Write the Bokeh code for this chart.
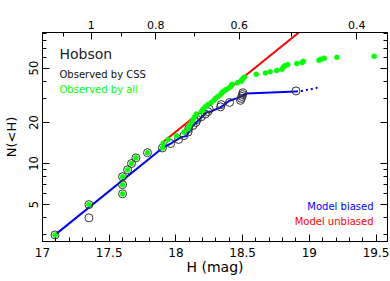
import math
from bokeh.plotting import figure
from bokeh.models import Range1d, LinearAxis, LogAxis, FixedTicker, Label, BasicTickFormatter
from bokeh.embed import file_html
from bokeh.resources import INLINE

# ---------------- data ----------------
# Observed by CSS (open circles): H (mag), cumulative N(<H)
css_H = [17.094, 17.348, 17.348, 17.600, 17.600, 17.600, 17.638, 17.667, 17.700, 17.787,
         17.899, 17.961, 18.020, 18.060, 18.091, 18.096, 18.128, 18.150, 18.160, 18.190,
         18.220, 18.240, 18.250, 18.335, 18.340, 18.402, 18.484, 18.490, 18.495, 18.500,
         18.502, 18.900]
css_N = [3, 4, 5, 6, 7, 8, 9, 10, 11, 12,
         13, 14, 15, 16, 17, 18, 19, 20, 21, 22,
         23, 24, 25, 26, 27, 28, 29, 30, 31, 32,
         33, 34]

# Observed by all (green dots)
all_H = [17.094, 17.348, 17.600, 17.600, 17.600, 17.638, 17.667, 17.700, 17.787, 17.899,
         17.904, 17.942, 18.004, 18.060, 18.091, 18.103, 18.116, 18.130, 18.141, 18.153,
         18.190, 18.203, 18.220, 18.240, 18.265, 18.285, 18.297, 18.315, 18.335, 18.345,
         18.360, 18.380, 18.402, 18.415, 18.420, 18.460, 18.490, 18.495, 18.502, 18.514,
         18.602, 18.671, 18.706, 18.756, 18.794, 18.806, 18.816, 18.839, 18.906, 18.945,
         18.955, 19.072, 19.087, 19.112, 19.207, 19.486]
all_N = [3, 5, 6, 7, 8, 9, 10, 11, 12, 13,
         14, 15, 16, 17, 18, 19, 20, 21, 22, 23,
         24, 25, 26, 27, 28, 29, 30, 31, 32, 33,
         34, 35, 36, 37, 38, 39, 40, 41, 42, 43,
         45, 46, 47, 48, 49, 51, 52, 53, 54, 55,
         56, 57, 58, 59, 60, 61]

# Model biased (blue, solid part and dotted extension)
biased_H = [17.094, 17.904, 17.960, 18.040, 18.080, 18.100, 18.130, 18.190, 18.228, 18.260,
            18.340, 18.400, 18.477, 18.527, 18.900]
biased_N = [3.0, 13.1, 14.0, 15.6, 15.9, 17.3, 19.0, 21.7, 23.6, 24.0,
            26.0, 28.8, 30.5, 32.6, 33.7]
biased_ext_H = [18.900, 18.940, 19.010, 19.050, 19.075]
biased_ext_N = [33.7, 34.0, 35.0, 35.6, 37.1]

# Model unbiased (red)
unbiased_H = [17.890, 18.950]
unbiased_N = [14.0, 96.0]

# ticks
H_ticks = [17, 17.5, 18, 18.5, 19, 19.5]
H_labels = ["17", "17.5", "18", "18.5", "19", "19.5"]
H_minor = [17.1, 17.2, 17.3, 17.4, 17.6, 17.7, 17.8, 17.9, 18.1, 18.2, 18.3, 18.4,
           18.6, 18.7, 18.8, 18.9, 19.1, 19.2, 19.3, 19.4]
N_ticks = [5, 10, 20, 50]
N_minor = [3, 4, 6, 7, 8, 9, 30, 40, 60, 70, 80, 90]
D_ticks = [1, 0.8, 0.6, 0.4]
D_labels = ["1", "0.8", "0.6", "0.4"]
D_minor = [1.1, 0.9, 0.7, 0.5]
H_at_1km = 17.365   # albedo 0.2

def H_of_D(d):
    return H_at_1km - 5.0 * math.log10(d)

D_pos = [H_of_D(d) for d in D_ticks]
D_minor_pos = [H_of_D(d) for d in D_minor]

FONT = "DejaVu Sans"

p = figure(width=390, height=281,
           x_range=Range1d(17.0, 19.586), y_range=Range1d(2.684, 91.1),
           y_axis_type="log", x_axis_location=None, y_axis_location=None,
           output_backend="svg", toolbar_location=None,
           min_border_left=41, min_border_right=3, min_border_top=32, min_border_bottom=40)
p.outline_line_color = "black"
p.background_fill_color = "white"
p.border_fill_color = "white"
p.grid.visible = False


def style(ax, fs):
    ax.axis_line_color = "black"
    ax.axis_line_width = 1
    ax.major_tick_line_color = "black"
    ax.minor_tick_line_color = "black"
    ax.major_tick_in = 7
    ax.major_tick_out = 0
    ax.minor_tick_in = 4
    ax.minor_tick_out = 0
    ax.major_label_text_font = FONT
    ax.major_label_text_font_size = fs
    ax.major_label_text_color = "black"
    ax.axis_label_text_font = FONT
    ax.axis_label_text_font_style = "normal"
    ax.axis_label_text_color = "black"


bottom = LinearAxis(ticker=FixedTicker(ticks=H_ticks, minor_ticks=H_minor),
                    major_label_overrides=dict(zip(H_ticks, H_labels)),
                    axis_label="H (mag)")
style(bottom, "12px")
bottom.axis_label_text_font_size = "14px"
bottom.major_label_standoff = 6
bottom.axis_label_standoff = -1
p.add_layout(bottom, "below")

left = LogAxis(ticker=FixedTicker(ticks=N_ticks, minor_ticks=N_minor),
               formatter=BasicTickFormatter(), axis_label="N(<H)",
               major_label_orientation="vertical")
style(left, "11.5px")
left.axis_label_text_font_size = "13px"
left.major_label_standoff = 4
left.axis_label_standoff = 8
p.add_layout(left, "left")

right = LogAxis(ticker=FixedTicker(ticks=N_ticks, minor_ticks=N_minor))
style(right, "0px")
right.major_label_text_color = None
right.major_label_standoff = 0
p.add_layout(right, "right")

top = LinearAxis(ticker=FixedTicker(ticks=D_pos, minor_ticks=D_minor_pos),
                 major_label_overrides=dict(zip(D_pos, D_labels)))
style(top, "11px")
top.major_label_standoff = 4
p.add_layout(top, "above")

# curves and points
p.line(biased_H, biased_N, line_color="#0000ff", line_width=2)
p.line(biased_ext_H, biased_ext_N, line_color="#0000ff", line_width=2, line_dash="2 3")
p.line(unbiased_H, unbiased_N, line_color="#ff0000", line_width=2)
p.scatter(css_H, css_N, marker="circle", size=8, fill_color=None,
          line_color="#333333", line_width=1)
p.scatter(all_H, all_N, marker="circle", size=5, fill_color="#00ff00",
          line_color="#00ff00", line_width=0.5)

# texts (screen units relative to the plot frame)
def lab(text, x, y, size, color, align="left", baseline="alphabetic"):
    p.add_layout(Label(x=x, y=y, x_units="screen", y_units="screen", text=text,
                       text_font=FONT, text_font_size=size, text_color=color,
                       text_align=align, text_baseline=baseline))

lab("D (km)", 179, 241, "12.5px", "black", align="center", baseline="top")
lab("Hobson", 17, 188, "14px", "#222222")
lab("Observed by CSS", 17, 167, "10px", "#111111")
lab("Observed by all", 17, 152, "10px", "#00ff00")
lab("Model biased", 331, 35, "10px", "#0000ff", align="right")
lab("Model unbiased", 331, 20, "10px", "#ff0000", align="right")

open("out.html", "w").write(file_html(p, INLINE))
